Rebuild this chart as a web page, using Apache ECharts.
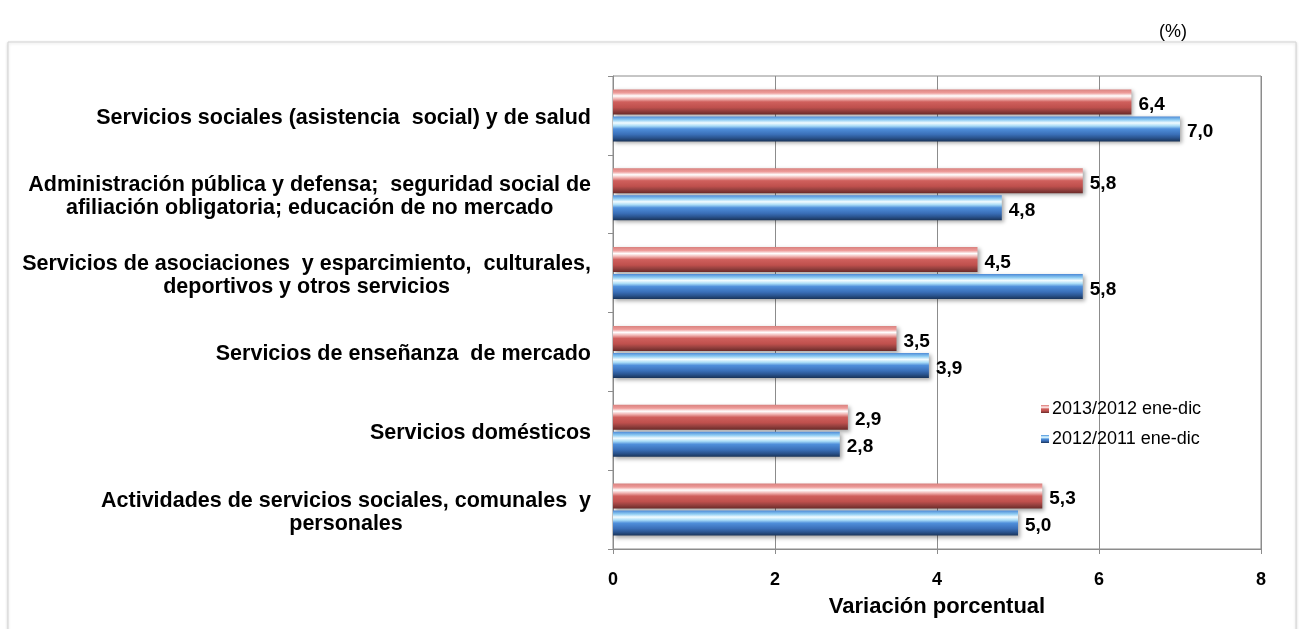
<!DOCTYPE html>
<html>
<head>
<meta charset="utf-8">
<script src="https://cdn.jsdelivr.net/npm/echarts@6/dist/echarts.min.js"></script>
<style>
  html, body { margin: 0; padding: 0; background: #ffffff; }
  #chart { width: 1304px; height: 629px; }
</style>
</head>
<body>
<div id="chart"></div>
<script>
// Categories, top to bottom
const categories = [
  'Servicios sociales (asistencia  social) y de salud',
  'Administración pública y defensa;  seguridad social de\nafiliación obligatoria; educación de no mercado',
  'Servicios de asociaciones  y esparcimiento,  culturales,\ndeportivos y otros servicios',
  'Servicios de enseñanza  de mercado',
  'Servicios domésticos',
  'Actividades de servicios sociales, comunales  y\npersonales'
];

// Annual percentage change
const series2013 = [6.4, 5.8, 4.5, 3.5, 2.9, 5.3];
const series2012 = [7.0, 4.8, 5.8, 3.9, 2.8, 5.0];

const seriesNames = ['2013/2012 ene-dic', '2012/2011 ene-dic'];
const xTicks = [0, 2, 4, 6, 8];

const sans = "'Liberation Sans', Arial, sans-serif";

function bevel(stops) {
  return {
    type: 'linear', x: 0, y: 0, x2: 0, y2: 1,
    colorStops: stops.map(s => ({ offset: s[0], color: s[1] }))
  };
}

// glossy tube look: bright streak near the top, dark underside
const redFill = bevel([
  [0, '#d9827f'], [0.14, '#ee9c9a'], [0.26, '#ffffff'], [0.38, '#f0b2b0'],
  [0.5, '#cf5f5c'], [0.72, '#bf504d'], [0.86, '#94403e'], [1, '#6b2a28']
]);
const blueFill = bevel([
  [0, '#4d8ad6'], [0.14, '#8fcdf3'], [0.26, '#f2fcff'], [0.38, '#a9dcf7'],
  [0.5, '#4f8fdb'], [0.72, '#3a6fb8'], [0.86, '#2a548f'], [1, '#1a3459']
]);

function valueLabel() {
  return {
    show: true,
    position: 'right',
    distance: 7,
    offset: [0, 3],
    formatter: p => p.value.toFixed(1).replace('.', ','),
    fontFamily: sans,
    fontWeight: 'bold',
    fontSize: 19,
    color: '#000'
  };
}

const catFont = { fontFamily: sans, fontWeight: 'bold', fontSize: 21.5, color: '#000', lineHeight: 23 };

const chart = echarts.init(document.getElementById('chart'), null, { renderer: 'canvas' });

chart.setOption({
  animation: false,
  backgroundColor: '#ffffff',
  graphic: [
    {
      type: 'rect',
      shape: { x: 8, y: 42, width: 1288, height: 600 },
      style: { fill: '#ffffff', stroke: '#d4d4d4', lineWidth: 1, shadowBlur: 3, shadowColor: 'rgba(0,0,0,0.15)', shadowOffsetY: 1 },
      z: -10
    },
    {
      type: 'text',
      left: 1159, top: 23,
      style: { text: '(%)', font: "18px " + sans, fill: '#000' }
    }
  ],
  grid: {
    left: 613, right: 43, top: 76, bottom: 80,
    show: true, borderColor: '#8c8c8c', borderWidth: 1, backgroundColor: 'transparent'
  },
  legend: {
    orient: 'vertical',
    left: 1036, top: 395,
    itemWidth: 8, itemHeight: 8, itemGap: 12,
    icon: 'rect',
    data: seriesNames,
    textStyle: { fontFamily: sans, fontSize: 18, color: '#000', padding: [0, 0, 0, -2] }
  },
  xAxis: {
    type: 'value',
    min: 0, max: 8, interval: 2,
    name: 'Variación porcentual',
    nameLocation: 'middle',
    nameGap: 47,
    nameTextStyle: { fontFamily: sans, fontWeight: 'bold', fontSize: 22, color: '#000' },
    axisLine: { show: true, lineStyle: { color: '#8c8c8c' } },
    axisTick: { show: true, length: 5, lineStyle: { color: '#8c8c8c' } },
    axisLabel: {
      margin: 22, fontFamily: sans, fontWeight: 'bold', fontSize: 18, color: '#000',
      formatter: v => xTicks.includes(v) ? String(v) : ''
    },
    splitLine: { show: true, lineStyle: { color: '#8c8c8c', width: 1 } }
  },
  yAxis: {
    type: 'category',
    data: categories,
    inverse: true,
    axisLine: { show: true, lineStyle: { color: '#8c8c8c' } },
    axisTick: { show: true, length: 5, lineStyle: { color: '#8c8c8c' } },
    axisLabel: Object.assign({
      margin: 22,
      align: 'right',
      padding: [5, 0, 0, 0],
      // lines of a wrapped label are centred on each other
      formatter: v => v.split('\n').map(l => '{c|' + l + '}').join('\n'),
      rich: { c: Object.assign({ align: 'center' }, catFont) }
    }, catFont),
    splitLine: { show: false }
  },
  series: [
    {
      name: seriesNames[0],
      type: 'bar',
      data: series2013,
      barWidth: 25,
      barGap: '8%',
      itemStyle: { color: redFill, shadowBlur: 4, shadowColor: 'rgba(0,0,0,0.35)', shadowOffsetX: 2, shadowOffsetY: 2 },
      label: valueLabel()
    },
    {
      name: seriesNames[1],
      type: 'bar',
      data: series2012,
      barWidth: 25,
      barGap: '8%',
      itemStyle: { color: blueFill, shadowBlur: 4, shadowColor: 'rgba(0,0,0,0.35)', shadowOffsetX: 2, shadowOffsetY: 2 },
      label: valueLabel()
    }
  ]
});
</script>
</body>
</html>
